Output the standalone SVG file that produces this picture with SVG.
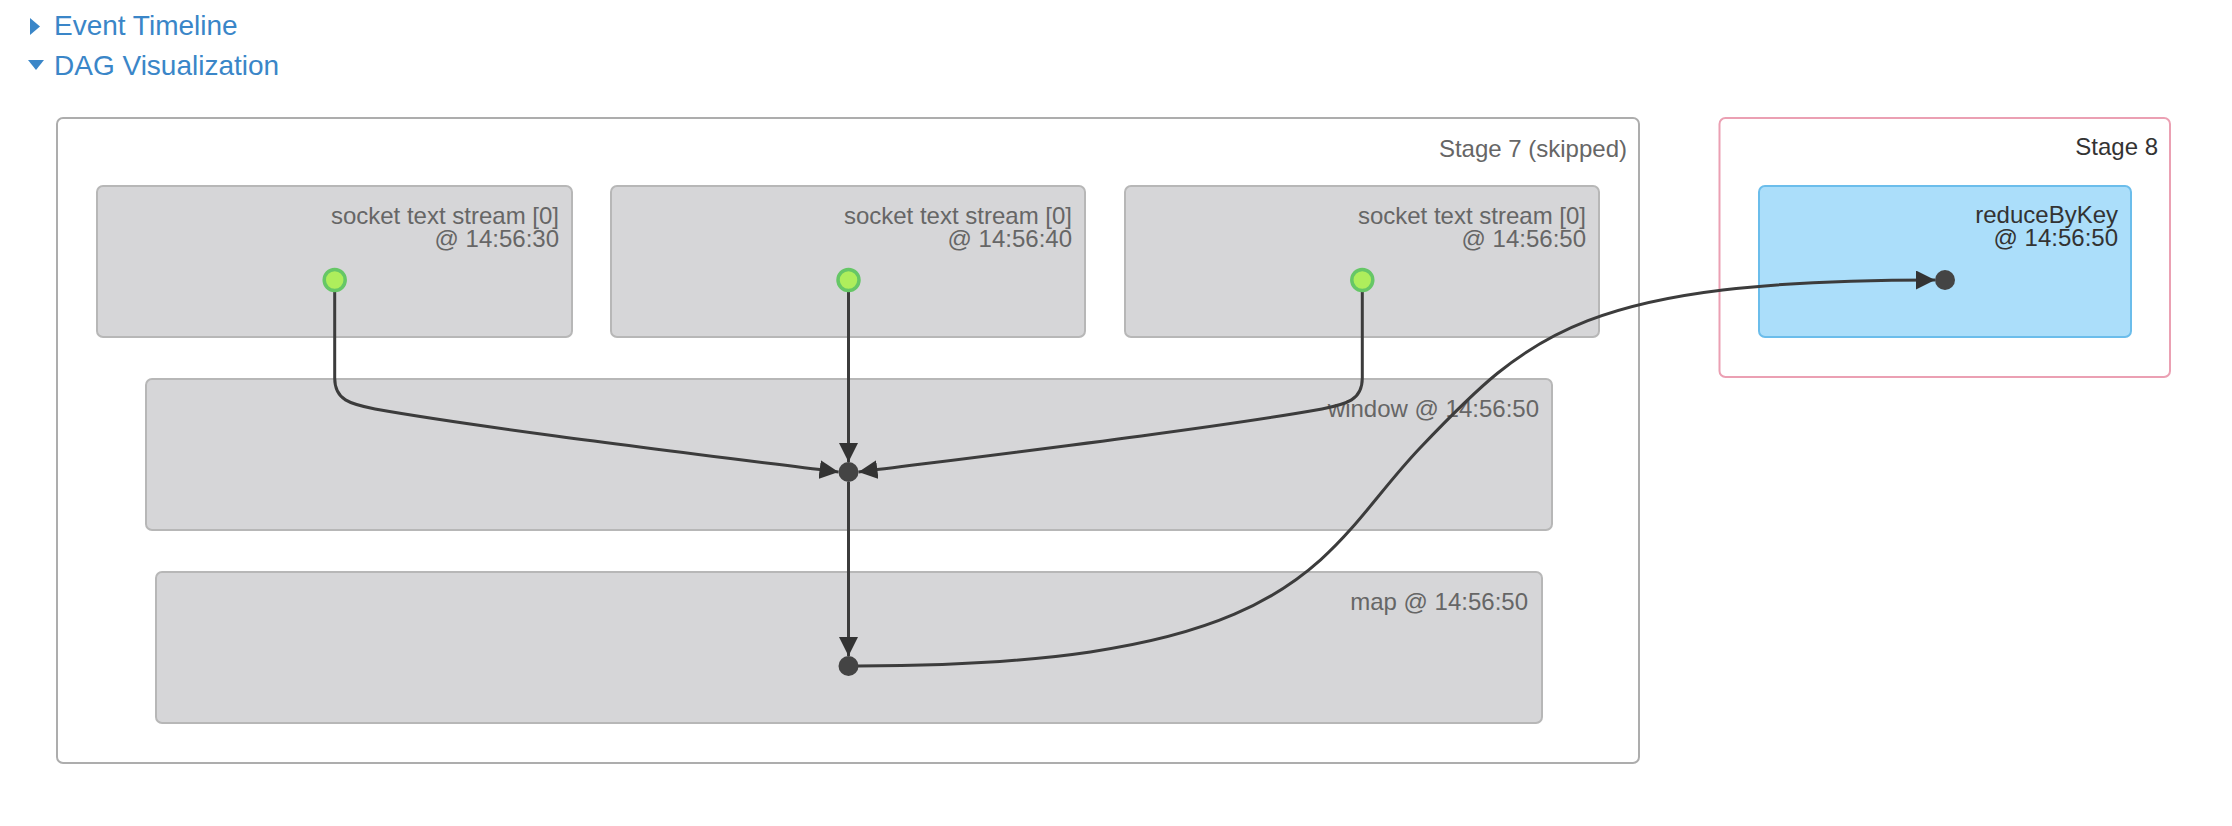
<svg xmlns="http://www.w3.org/2000/svg" width="2232" height="826" viewBox="0 0 2232 826">
<style>
  .hdr { font-family: "Liberation Sans", Arial, sans-serif; font-size: 28px; fill: #3A86C8; }
  .lbl { font-family: "Liberation Sans", Arial, sans-serif; font-size: 24px; fill: #666666; text-anchor: end; }
  .lbl.dark { fill: #333333; }
  .stage { fill: #FFFFFF; stroke-width: 2; }
  .skip { stroke: #ADADAD; }
  .pink { stroke: #EBA0B3; }
  .rdd { fill: #D6D6D8; stroke: #B7B7B7; stroke-width: 2; }
  .rdd.blue { fill: #ABDEFA; stroke: #6BBDEB; }
  .cached { fill: #AEEE5C; stroke: #66C766; stroke-width: 3.5; }
  .dot { fill: #444444; }
  .edge { fill: none; stroke: #3C3C3C; stroke-width: 3; marker-end: url(#arrow); }
</style>
<defs>
  <marker id="arrow" markerUnits="userSpaceOnUse" viewBox="0 0 19 19" refX="19" refY="9.5" markerWidth="19" markerHeight="19" orient="auto">
    <path d="M0,0 L19,9.5 L0,19 z" fill="#333333"/>
  </marker>
</defs>
<rect width="2232" height="826" fill="#FFFFFF"/>

<g id="header">
  <path d="M30,18 L30,35 L40,26.5 z" fill="#3A86C8"/>
  <text class="hdr" x="54" y="35">Event Timeline</text>
  <path d="M28,60 L44,60 L36,70 z" fill="#3A86C8"/>
  <text class="hdr" x="54" y="75">DAG Visualization</text>
</g>

<g id="stage7">
  <rect class="stage skip" x="57" y="118" width="1582" height="645" rx="6"/>
  <text class="lbl" x="1627" y="157">Stage 7 (skipped)</text>
</g>
<g id="stage8">
  <rect class="stage pink" x="1719.5" y="118" width="450.5" height="259" rx="6"/>
  <text class="lbl dark" x="2158" y="155">Stage 8</text>
</g>

<g id="socket1">
  <rect class="rdd" x="97" y="186" width="475" height="151" rx="6"/>
  <text class="lbl" x="559" y="224">socket text stream [0]</text>
  <text class="lbl" x="559" y="247">@ 14:56:30</text>
</g>
<g id="socket2">
  <rect class="rdd" x="611" y="186" width="474" height="151" rx="6"/>
  <text class="lbl" x="1072" y="224">socket text stream [0]</text>
  <text class="lbl" x="1072" y="247">@ 14:56:40</text>
</g>
<g id="socket3">
  <rect class="rdd" x="1125" y="186" width="474" height="151" rx="6"/>
  <text class="lbl" x="1586" y="224">socket text stream [0]</text>
  <text class="lbl" x="1586" y="247">@ 14:56:50</text>
</g>
<g id="window">
  <rect class="rdd" x="146" y="379" width="1406" height="151" rx="6"/>
  <text class="lbl" x="1539" y="417">window @ 14:56:50</text>
</g>
<g id="map">
  <rect class="rdd" x="156" y="572" width="1386" height="151" rx="6"/>
  <text class="lbl" x="1528" y="610">map @ 14:56:50</text>
</g>
<g id="reduceByKey">
  <rect class="rdd blue" x="1759" y="186" width="372" height="151" rx="6"/>
  <text class="lbl dark" x="2118" y="223">reduceByKey</text>
  <text class="lbl dark" x="2118" y="246">@ 14:56:50</text>
</g>

<g id="connectors">
  <path class="edge" d="M334.7,291 L334.7,378 C334.7,400 350,404 375,409 C482,428 680,452 838.5,472"/>
  <path class="edge" d="M848.5,291 L848.5,462"/>
  <path class="edge" d="M1362.3,291 L1362.3,378 C1362.3,400 1347,404 1322,409 C1215,428 1017,452 858.5,472"/>
  <path class="edge" d="M848.5,482 L848.5,656"/>
  <path class="edge" d="M858,666 C1308,666 1320,553 1420,448 C1530,332.5 1586,280 1935,280"/>
</g>

<g id="points">
  <circle class="cached" cx="334.7" cy="280" r="10.5"/>
  <circle class="cached" cx="848.5" cy="280" r="10.5"/>
  <circle class="cached" cx="1362.3" cy="280" r="10.5"/>
  <circle class="dot" cx="848.5" cy="472" r="10"/>
  <circle class="dot" cx="848.5" cy="666" r="10"/>
  <circle class="dot" cx="1945" cy="280" r="10"/>
</g>
</svg>
